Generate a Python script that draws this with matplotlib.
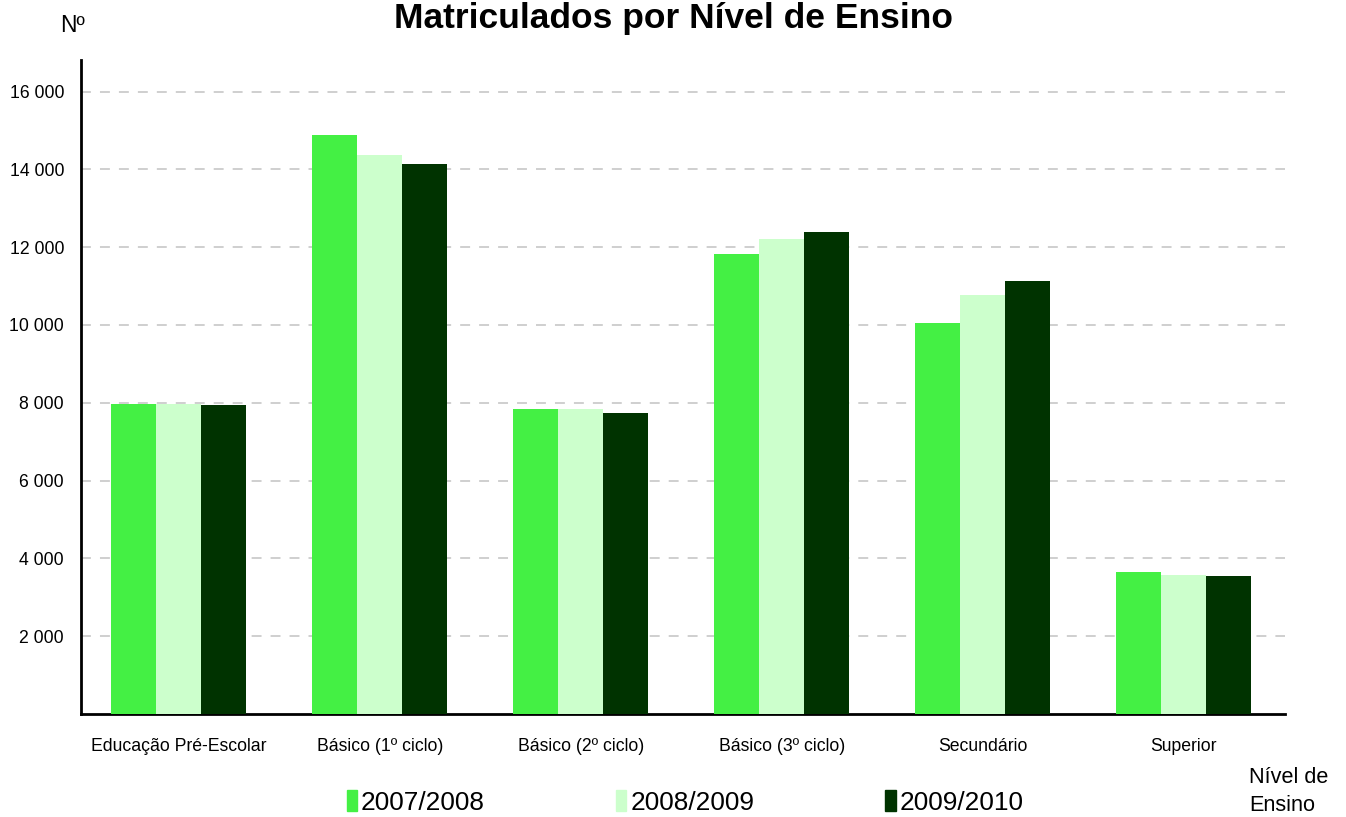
import matplotlib.pyplot as plt
import numpy as np
from matplotlib import font_manager
from matplotlib.patches import Patch
from matplotlib.ticker import FuncFormatter

# letra estreita (tipo Arial Narrow) se existir
nomes = {f.name for f in font_manager.fontManager.ttflist}
narrow = 'Liberation Sans Narrow' in nomes
fam = ['Liberation Sans Narrow', 'DejaVu Sans'] if narrow else ['Liberation Sans', 'DejaVu Sans']
k = 1.0 if narrow else 0.82
plt.rcParams['font.family'] = fam

niveis = ['Educação Pré-Escolar', 'Básico (1º ciclo)', 'Básico (2º ciclo)',
          'Básico (3º ciclo)', 'Secundário', 'Superior']
anos = ['2007/2008', '2008/2009', '2009/2010']
v_0708 = [7980, 14890, 7850, 11830, 10060, 3640]
v_0809 = [7960, 14380, 7850, 12210, 10760, 3580]
v_0910 = [7950, 14150, 7750, 12390, 11130, 3560]
cores = ['#44f044', '#ccffcc', '#003300']

fig = plt.figure(figsize=(13.46, 8.17), dpi=100)
ax = fig.add_axes([0.060, 0.126, 0.895, 0.801])

x = np.arange(len(niveis))
w = 0.224
for i, (vals, c) in enumerate(zip([v_0708, v_0809, v_0910], cores)):
    ax.bar(x + (i - 1) * w, vals, w, color=c, zorder=3)

ax.set_xlim(-0.488, 5.507)
ax.set_ylim(0, 16820)
ax.set_yticks(range(2000, 16001, 2000))
ax.yaxis.set_major_formatter(FuncFormatter(lambda v, p: f'{int(v):,}'.replace(',', ' ')))
ax.set_xticks(x)
ax.set_xticklabels(niveis, fontsize=15.5 * k)
ax.tick_params(axis='y', labelsize=15.5 * k, length=0, pad=12)
ax.tick_params(axis='x', length=0, pad=17)
ax.grid(axis='y', color='#cccccc', linestyle=(0, (5.5, 5)), linewidth=1.3, zorder=0)
for s in ['top', 'right']:
    ax.spines[s].set_visible(False)
ax.spines['left'].set_linewidth(2)
ax.spines['bottom'].set_linewidth(2)

fig.text(0.5, 0.977, 'Matriculados por Nível de Ensino', ha='center', va='center',
         fontsize=25.5, fontweight='bold', family=['Liberation Sans', 'DejaVu Sans'])
fig.text(0.054, 0.969, 'Nº', ha='center', va='center', fontsize=20 * k)
fig.text(0.928, 0.031, 'Nível de\nEnsino', ha='left', va='center', fontsize=19 * k,
         linespacing=1.4)

handles = [Patch(color=c) for c in cores]
fig.legend(handles, anos, loc='center', bbox_to_anchor=(0.509, 0.018), ncol=3,
           frameon=False, fontsize=23 * k, handlelength=0.4, handleheight=0.85,
           handletextpad=0.15, columnspacing=5.0)

fig.savefig('out.png', dpi=100)
